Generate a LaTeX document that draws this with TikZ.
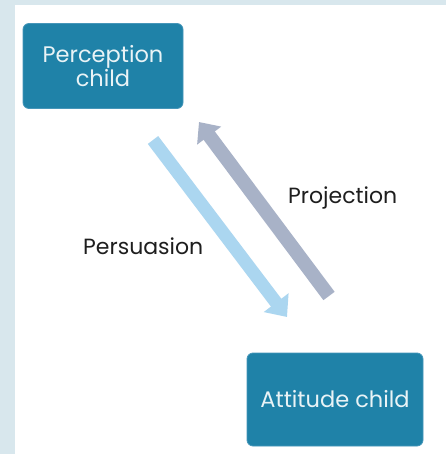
\documentclass[tikz,border=0pt]{standalone}
\usepackage{fontspec}
\setmainfont{Poppins}
\usetikzlibrary{arrows.meta}
\definecolor{boxfill}{RGB}{31,130,168}
\definecolor{boxline}{RGB}{70,150,185}
\definecolor{persc}{RGB}{171,214,240}
\definecolor{projc}{RGB}{168,178,199}
\definecolor{bandc}{RGB}{216,231,237}
\definecolor{txtc}{RGB}{30,30,30}
\begin{document}
\begin{tikzpicture}[x=1pt,y=-1pt,
  childbox/.style={draw=boxline,line width=0.8pt,fill=boxfill,rounded corners=6pt,text=white!90!boxfill,font=\fontsize{22.5}{24}\selectfont,align=center,inner sep=0pt},
  lbl/.style={text=txtc,font=\fontsize{22}{26}\selectfont,inner sep=0pt,anchor=base west},
  bigarrow/.style={line width=13pt,-{Triangle[length=18pt,width=30pt]}}]
\fill[bandc] (0,0) rectangle (446,454);
\fill[white] (15,5) rectangle (446,454);
\useasboundingbox (0,0) rectangle (446,454);
\node[childbox,minimum width=160pt,minimum height=85pt] (perc) at (103,66) {Perception\\child};
\node[childbox,minimum width=176pt,minimum height=93pt] (att) at (335,399.5) {Attitude child};
\coordinate (pt1) at (153,140);
\coordinate (pt2) at (287,317);
\coordinate (pj1) at (329,296);
\coordinate (pj2) at (199,122);
\draw[bigarrow,persc] (pt1) -- (pt2);
\draw[bigarrow,projc,line width=14pt,-{Triangle[length=17pt,width=29pt]}] (pj1) -- (pj2);
\node[lbl] (plbl) at (83,254) {Persuasion};
\node[lbl] (jlbl) at (288,203) {Projection};
\end{tikzpicture}
\end{document}
